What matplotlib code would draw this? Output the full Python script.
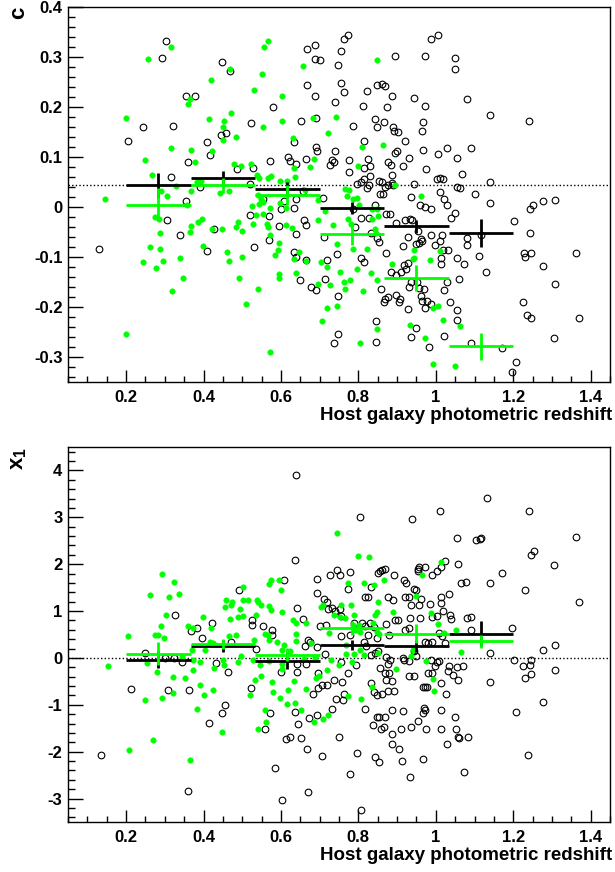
import numpy as np
import matplotlib
matplotlib.use("Agg")
import matplotlib.pyplot as plt
from matplotlib.ticker import MultipleLocator, FuncFormatter

plt.rcParams['font.family'] = ['Liberation Sans', 'DejaVu Sans']
plt.rcParams['font.weight'] = 'bold'
plt.rcParams['axes.unicode_minus'] = False
plt.rcParams['mathtext.fontset'] = 'custom'
plt.rcParams['mathtext.rm'] = 'Liberation Sans:bold'
plt.rcParams['mathtext.it'] = 'Liberation Sans:bold'
plt.rcParams['mathtext.bf'] = 'Liberation Sans:bold'

# redshift bins used for the binned means
bin_edges = [0.2, 0.367, 0.533, 0.7, 0.867, 1.033, 1.2]

# ---- top panel: colour c vs host photo-z ----
c_black = [
    (0.304, 0.331), (0.293, 0.299), (0.355, 0.221), (0.378, 0.221), (0.244, 0.159), (0.321, 0.161),
    (0.206, 0.132), (0.361, 0.091), (0.317, 0.061), (0.392, 0.041), (0.355, 0.013), (0.306, -0.026),
    (0.339, -0.056), (0.129, -0.083),
    (0.449, 0.291), (0.468, 0.271), (0.579, 0.199), (0.522, 0.167), (0.458, 0.149), (0.444, 0.145),
    (0.408, 0.131), (0.417, 0.105), (0.486, 0.077), (0.529, 0.079), (0.573, 0.092), (0.520, 0.046),
    (0.554, 0.016), (0.608, 0.013), (0.600, -0.004), (0.634, -0.002), (0.638, 0.016), (0.520, -0.015),
    (0.570, -0.017), (0.428, -0.043), (0.596, -0.038), (0.638, -0.053), (0.568, -0.065), (0.530, -0.079),
    (0.410, -0.088), (0.634, -0.089), (0.640, -0.099), (0.665, -0.106), (0.648, -0.146), (0.656, 0.032),
    (0.666, 0.097), (0.618, 0.101), (0.623, 0.093), (0.639, 0.087), (0.634, 0.131), (0.652, 0.171),
    (0.668, 0.243), (0.689, 0.221), (0.668, 0.316), (0.689, 0.323), (0.687, 0.296), (0.702, 0.295),
    (0.690, 0.179), (0.694, 0.112), (0.691, 0.121), (0.727, 0.085), (0.733, 0.094), (0.738, 0.091),
    (0.739, 0.113), (0.740, 0.209), (0.660, -0.025), (0.665, -0.035), (0.712, -0.059), (0.719, -0.105),
    (0.713, -0.143), (0.678, -0.159), (0.691, -0.165), (0.736, -0.271), (0.708, 0.019),
    (0.773, 0.344), (0.763, 0.336), (0.756, 0.311), (0.748, 0.285), (0.894, 0.302), (0.973, 0.303),
    (0.988, 0.335), (1.007, 0.343), (1.050, 0.299), (1.049, 0.275), (0.754, 0.247), (0.762, 0.229),
    (0.848, 0.244), (0.861, 0.246), (0.870, 0.241), (0.822, 0.232), (0.944, 0.217), (0.888, 0.221),
    (0.811, 0.201), (0.874, 0.200), (0.971, 0.201), (1.080, 0.215), (0.844, 0.176), (0.867, 0.169),
    (0.848, 0.159), (0.889, 0.159), (0.892, 0.152), (0.902, 0.151), (0.968, 0.169), (0.965, 0.152),
    (0.786, 0.161), (0.920, 0.133), (0.815, 0.132), (0.967, 0.115), (0.899, 0.113), (0.894, 0.109),
    (0.930, 0.099), (1.006, 0.107), (1.028, 0.119), (1.054, 0.099), (0.776, 0.094), (0.825, 0.097),
    (0.877, 0.091), (0.884, 0.085), (0.777, 0.071), (0.814, 0.079), (0.830, 0.083), (0.888, 0.065),
    (0.915, 0.083), (0.976, 0.077), (1.068, 0.066), (1.004, 0.056), (1.011, 0.058), (1.019, 0.056),
    (0.815, 0.057), (0.829, 0.063), (0.797, 0.046), (0.808, 0.051), (0.822, 0.039), (0.828, 0.044),
    (0.853, 0.052), (0.861, 0.051), (0.868, 0.041), (0.877, 0.044), (0.856, 0.026), (0.864, 0.027),
    (0.887, 0.049), (0.890, 0.044), (0.945, 0.046), (1.011, 0.031), (1.056, 0.041), (1.062, 0.039),
    (1.021, 0.016), (1.029, 0.004), (0.937, 0.021), (0.958, 0.004), (0.971, 0.001), (0.987, -0.003),
    (1.040, -0.021), (1.050, -0.011), (0.872, -0.013), (0.881, -0.013), (0.842, 0.005), (0.786, -0.003),
    (0.806, -0.021), (0.828, -0.021), (0.791, -0.039), (0.746, -0.093), (0.748, -0.177), (0.748, -0.254),
    (0.896, -0.031), (0.920, -0.026), (0.933, -0.024), (0.939, -0.025), (0.954, -0.048), (0.961, -0.063),
    (0.956, -0.071), (0.948, -0.073), (0.964, -0.068), (0.928, -0.059), (0.915, -0.077), (0.988, -0.055),
    (0.999, -0.075), (1.012, -0.067), (1.016, -0.056), (1.031, -0.085), (1.019, -0.086), (1.013, -0.101),
    (1.013, -0.113), (1.056, -0.101), (1.073, -0.114), (1.081, -0.061), (1.081, -0.075), (0.832, -0.051),
    (0.848, -0.061), (0.853, -0.069), (0.806, -0.101), (0.815, -0.109), (0.872, -0.091), (0.927, -0.111),
    (0.917, -0.116), (0.922, -0.123), (0.911, -0.129), (0.885, -0.129), (0.898, -0.136), (0.859, -0.163),
    (0.870, -0.183), (0.865, -0.189), (0.877, -0.179), (0.896, -0.176), (0.908, -0.183), (0.906, -0.189),
    (0.930, -0.159), (0.937, -0.149), (0.952, -0.149), (0.956, -0.161), (0.970, -0.163), (0.961, -0.177),
    (0.964, -0.188), (0.978, -0.188), (0.988, -0.193), (0.971, -0.201), (0.928, -0.203), (1.028, -0.149),
    (1.021, -0.166), (1.060, -0.143), (1.038, -0.189), (1.054, -0.205), (1.054, -0.226), (1.020, -0.258),
    (0.949, -0.241), (0.937, -0.259), (0.983, -0.279), (0.845, -0.228), (0.845, -0.269),
    (1.141, 0.183), (1.241, 0.171), (1.092, 0.119), (1.141, 0.050), (1.102, 0.027), (1.140, 0.008),
    (1.243, -0.003), (1.252, 0.004), (1.276, 0.012), (1.307, 0.014), (1.202, -0.027), (1.244, -0.052),
    (1.116, -0.056), (1.112, -0.097), (1.130, -0.129), (1.229, -0.091), (1.231, -0.099), (1.245, -0.091),
    (1.363, -0.092), (1.276, -0.118), (1.307, -0.154), (1.224, -0.190), (1.236, -0.215), (1.246, -0.221),
    (1.370, -0.221), (1.306, -0.262), (1.092, -0.271), (1.172, -0.281), (1.206, -0.309), (1.197, -0.330),
]
c_green = [
    (0.315, 0.320), (0.256, 0.296), (0.365, 0.215), (0.360, 0.207), (0.200, 0.179), (0.316, 0.119),
    (0.368, 0.115), (0.249, 0.095), (0.378, 0.091), (0.267, 0.065), (0.394, 0.053), (0.384, 0.051),
    (0.330, 0.043), (0.291, 0.032), (0.368, 0.032), (0.306, 0.023), (0.146, 0.017), (0.357, 0.004),
    (0.275, -0.020), (0.284, -0.024), (0.397, -0.024), (0.385, -0.030), (0.367, -0.037), (0.287, -0.052),
    (0.365, -0.049), (0.263, -0.080), (0.288, -0.084), (0.398, -0.077), (0.244, -0.109), (0.296, -0.108),
    (0.339, -0.101), (0.277, -0.122), (0.347, -0.141), (0.318, -0.167), (0.201, -0.254),
    (0.566, 0.331), (0.557, 0.319), (0.658, 0.282), (0.468, 0.275), (0.552, 0.266), (0.419, 0.253),
    (0.531, 0.235), (0.603, 0.222), (0.470, 0.187), (0.414, 0.177), (0.453, 0.171), (0.603, 0.173),
    (0.553, 0.159), (0.451, 0.160), (0.451, 0.135), (0.484, 0.141), (0.721, 0.148), (0.423, 0.113),
    (0.630, 0.139), (0.685, 0.097), (0.674, 0.081), (0.634, 0.079), (0.480, 0.087), (0.498, 0.083),
    (0.522, 0.087), (0.537, 0.065), (0.544, 0.059), (0.566, 0.059), (0.575, 0.062), (0.636, 0.060),
    (0.598, 0.052), (0.615, 0.053), (0.443, 0.029), (0.466, 0.033), (0.540, 0.025), (0.548, 0.017),
    (0.544, 0.007), (0.554, 0.011), (0.597, 0.009), (0.612, -0.001), (0.663, 0.035), (0.697, 0.015),
    (0.714, -0.007), (0.525, 0.002), (0.572, -0.001), (0.554, -0.014), (0.536, -0.016), (0.529, -0.033),
    (0.563, -0.033), (0.566, -0.039), (0.612, -0.035), (0.629, -0.041), (0.697, -0.026), (0.735, -0.035),
    (0.421, -0.043), (0.447, -0.043), (0.485, -0.039), (0.490, -0.030), (0.499, -0.048), (0.571, -0.056),
    (0.595, -0.071), (0.592, -0.086), (0.585, -0.095), (0.647, -0.090), (0.633, -0.103), (0.664, -0.107),
    (0.704, -0.109), (0.719, -0.119), (0.461, -0.089), (0.465, -0.107), (0.499, -0.099), (0.492, -0.141),
    (0.542, -0.163), (0.510, -0.194), (0.594, -0.133), (0.595, -0.141), (0.639, -0.131), (0.695, -0.153),
    (0.727, -0.155), (0.719, -0.201), (0.707, -0.227), (0.572, -0.289), (0.683, 0.179),
    (0.848, 0.295), (0.743, 0.180), (0.864, 0.124), (0.810, 0.121), (0.799, 0.083), (0.894, 0.044),
    (0.963, 0.022), (0.765, 0.036), (0.776, 0.035), (0.771, 0.022), (0.786, 0.017), (0.797, 0.019),
    (0.801, 0.004), (0.835, -0.004), (0.849, -0.003), (0.851, -0.017), (0.835, -0.023), (0.772, -0.024),
    (0.780, -0.033), (0.842, -0.044), (0.845, -0.052), (0.746, -0.074), (0.786, -0.083), (0.823, -0.084),
    (0.943, -0.086), (0.940, -0.103), (0.945, -0.101), (0.887, -0.113), (0.984, -0.105), (1.010, -0.087),
    (0.752, -0.129), (0.796, -0.123), (0.832, -0.131), (0.847, -0.145), (0.763, -0.149), (0.778, -0.145),
    (0.765, -0.163), (0.812, -0.167), (0.746, -0.197), (0.993, -0.201), (1.006, -0.198), (1.019, -0.225),
    (1.063, -0.238), (0.848, -0.243), (0.934, -0.236), (0.973, -0.261), (0.804, -0.271), (0.994, -0.314),
    (1.050, -0.318),
]
c_black_mean = [0.044, 0.058, 0.037, -0.001, -0.038, -0.051]
c_black_err = [0.025, 0.015, 0.014, 0.012, 0.013, 0.028]
c_green_mean = [0.005, 0.044, 0.025, -0.053, -0.141, -0.278]
c_green_err = [0.033, 0.015, 0.020, 0.022, 0.026, 0.027]
c_ref = 0.044

# ---- bottom panel: stretch x1 vs host photo-z ----
x1_black = [
    (0.327, 0.92), (0.384, 0.63), (0.367, 0.58), (0.397, 0.43), (0.250, 0.11), (0.324, 0.00),
    (0.301, 0.00), (0.345, -0.09), (0.212, -0.67), (0.308, -0.68), (0.362, -0.69), (0.136, -2.08),
    (0.360, -2.84),
    (0.639, 3.90), (0.637, 2.09), (0.609, 1.66), (0.692, 1.68), (0.727, 1.76), (0.492, 1.46),
    (0.692, 1.38), (0.711, 1.26), (0.718, 1.19), (0.642, 1.07), (0.733, 1.07), (0.739, 1.00),
    (0.656, 0.84), (0.722, 1.04), (0.525, 0.80), (0.526, 0.70), (0.422, 0.75), (0.554, 0.69),
    (0.577, 0.60), (0.576, 0.48), (0.701, 0.69), (0.716, 0.71), (0.472, 0.35), (0.671, 0.38),
    (0.675, 0.33), (0.662, 0.25), (0.692, 0.23), (0.714, 0.09), (0.536, 0.19), (0.433, -0.11),
    (0.462, -0.31), (0.642, -0.13), (0.665, -0.13), (0.601, -0.31), (0.642, -0.31), (0.695, -0.32),
    (0.706, -0.57), (0.718, -0.57), (0.696, -0.64), (0.737, -0.48), (0.682, -0.76), (0.523, -0.65),
    (0.455, -1.00), (0.449, -1.17), (0.415, -1.39), (0.573, -1.18), (0.637, -1.16), (0.645, -1.40),
    (0.673, -1.28), (0.692, -1.21), (0.732, -1.09), (0.558, -1.51), (0.612, -1.72), (0.623, -1.68),
    (0.652, -1.71), (0.668, -1.95), (0.705, -2.10), (0.584, -2.35), (0.671, -2.86), (0.603, -3.02),
    (0.804, 3.01), (0.939, 2.96), (1.010, 3.14), (1.054, 2.56), (0.745, 1.88), (0.752, 1.76),
    (0.779, 1.83), (0.851, 1.81), (0.857, 1.85), (0.862, 1.88), (0.868, 1.90), (0.891, 1.76),
    (0.954, 1.90), (0.957, 1.93), (0.971, 1.93), (0.954, 1.85), (0.991, 1.78), (1.002, 1.86),
    (1.013, 1.93), (1.023, 2.06), (1.057, 2.00), (1.064, 1.60), (1.077, 1.61), (0.772, 1.48),
    (0.832, 1.51), (0.918, 1.67), (0.924, 1.60), (0.945, 1.47), (0.950, 1.46), (0.816, 1.30),
    (0.825, 1.30), (0.877, 1.31), (0.890, 1.24), (0.920, 1.30), (0.931, 1.29), (0.963, 1.26),
    (1.013, 1.29), (1.033, 1.36), (0.935, 1.14), (0.957, 1.12), (0.986, 1.15), (1.014, 1.17),
    (0.752, 1.04), (0.756, 0.89), (0.789, 0.75), (0.810, 0.75), (0.816, 0.69), (0.829, 0.75),
    (0.840, 0.66), (0.894, 0.82), (0.902, 0.82), (0.871, 0.73), (0.933, 0.85), (0.958, 0.85),
    (0.991, 0.87), (1.004, 0.90), (1.019, 1.00), (1.038, 0.92), (1.040, 0.83), (1.081, 0.85),
    (0.756, 0.46), (0.778, 0.50), (0.825, 0.48), (0.849, 0.43), (0.879, 0.50), (0.920, 0.59),
    (0.930, 0.64), (0.971, 0.33), (0.980, 0.32), (0.990, 0.33), (1.008, 0.53), (1.016, 0.46),
    (1.023, 0.32), (0.815, 0.33), (0.819, 0.25), (0.832, 0.07), (0.842, 0.11), (0.851, 0.14),
    (0.795, -0.14), (0.756, -0.09), (0.773, -0.32), (0.758, -0.52), (0.743, -0.87), (0.871, 0.02),
    (0.881, -0.04), (0.877, -0.12), (0.855, -0.21), (0.870, -0.32), (0.879, -0.32), (0.915, 0.00),
    (0.918, -0.05), (0.931, -0.07), (0.944, 0.14), (0.950, 0.04), (0.930, -0.38), (0.945, -0.38),
    (0.988, -0.04), (1.002, -0.09), (0.999, -0.18), (0.980, -0.33), (0.991, -0.32), (1.008, -0.06),
    (1.034, -0.18), (1.031, -0.28), (1.045, -0.37), (1.057, -0.48), (1.055, -0.20), (1.070, -0.18),
    (0.967, -0.63), (0.973, -0.63), (0.978, -0.63), (0.872, -0.48), (0.887, -0.50), (1.014, -0.53),
    (1.027, -0.76), (0.832, -0.53), (0.840, -0.73), (0.849, -0.80), (0.862, -0.76), (0.877, -0.71),
    (0.891, -0.71), (0.763, -0.76), (0.760, -0.90), (0.818, -1.08), (0.888, -1.10), (0.915, -1.14),
    (0.954, -1.35), (0.969, -1.07), (0.971, -1.12), (0.967, -1.17), (0.849, -1.26), (0.853, -1.26),
    (0.868, -1.27), (0.838, -1.44), (0.859, -1.51), (0.866, -1.47), (0.911, -1.51), (0.935, -1.48),
    (0.974, -1.51), (1.013, -1.51), (1.049, -1.26), (1.051, -1.51), (1.014, -1.12), (1.057, -1.68),
    (1.060, -1.70), (1.083, -1.69), (0.750, -1.69), (0.887, -1.62), (0.905, -1.94), (0.887, -1.83),
    (1.030, -1.83), (0.797, -2.03), (0.844, -2.11), (0.853, -2.22), (0.913, -2.20), (0.967, -2.15),
    (0.779, -2.47), (0.934, -2.54), (1.074, -2.44), (0.808, -3.25),
    (1.131, 3.41), (1.241, 3.13), (1.103, 2.52), (1.114, 2.54), (1.118, 2.56), (1.363, 2.58),
    (1.245, 2.20), (1.253, 2.29), (1.306, 1.98), (1.172, 1.81), (1.141, 1.59), (1.230, 1.46),
    (1.370, 1.19), (1.092, 0.87), (1.092, 0.59), (1.198, 0.63), (1.307, 0.28), (1.276, 0.18),
    (1.141, 0.11), (1.202, -0.05), (1.245, -0.04), (1.224, -0.18), (1.244, -0.14), (1.230, -0.43),
    (1.245, -0.34), (1.308, -0.26), (1.141, -0.52), (1.276, -0.95), (1.207, -1.16), (1.237, -2.08),
]
x1_green = [
    (0.294, 1.80), (0.324, 1.61), (0.336, 1.37), (0.263, 1.34), (0.312, 1.29), (0.302, 0.92),
    (0.399, 0.87), (0.291, 0.68), (0.361, 0.68), (0.373, 0.63), (0.206, 0.46), (0.274, 0.48),
    (0.283, 0.49), (0.297, 0.43), (0.370, 0.18), (0.403, 0.16), (0.345, 0.03), (0.255, -0.11),
    (0.374, -0.05), (0.392, -0.08), (0.153, -0.17), (0.281, -0.29), (0.373, -0.25), (0.322, -0.41),
    (0.351, -0.43), (0.392, -0.58), (0.402, -0.80), (0.321, -0.75), (0.293, -0.85), (0.250, -0.90),
    (0.383, -1.09), (0.269, -1.76), (0.207, -1.96), (0.365, -2.18),
    (0.596, 1.67), (0.574, 1.66), (0.568, 1.58), (0.599, 1.46), (0.503, 1.51), (0.704, 1.09),
    (0.709, 1.14), (0.737, 0.92), (0.458, 1.23), (0.474, 1.19), (0.470, 1.12), (0.503, 1.23),
    (0.514, 1.24), (0.537, 1.24), (0.542, 1.20), (0.548, 1.12), (0.568, 1.10), (0.574, 1.03),
    (0.456, 1.08), (0.495, 1.05), (0.604, 0.97), (0.536, 0.92), (0.488, 0.88), (0.501, 0.89),
    (0.469, 0.83), (0.632, 0.82), (0.638, 0.74), (0.665, 0.74), (0.723, 0.53), (0.419, 0.64),
    (0.559, 0.51), (0.566, 0.50), (0.569, 0.39), (0.640, 0.51), (0.640, 0.37), (0.484, 0.48),
    (0.465, 0.46), (0.530, 0.39), (0.589, 0.35), (0.608, 0.28), (0.603, 0.18), (0.677, 0.32),
    (0.425, 0.32), (0.417, 0.33), (0.497, 0.04), (0.451, -0.05), (0.454, -0.16), (0.428, -0.21),
    (0.490, -0.09), (0.529, -0.05), (0.570, -0.07), (0.604, -0.13), (0.623, 0.14), (0.660, -0.02),
    (0.688, -0.01), (0.730, -0.04), (0.547, -0.16), (0.548, -0.39), (0.534, -0.46), (0.603, -0.23),
    (0.690, -0.43), (0.698, -0.39), (0.718, -0.26), (0.634, -0.50), (0.576, -0.51), (0.666, -0.66),
    (0.619, -0.69), (0.579, -0.73), (0.598, -0.85), (0.520, -0.80), (0.424, -0.69), (0.616, -0.98),
    (0.636, -0.97), (0.651, -1.10), (0.558, -1.10), (0.562, -1.36), (0.541, -1.51), (0.708, -1.30),
    (0.722, -1.21), (0.686, -1.36), (0.447, -1.57),
    (0.745, 2.67), (0.799, 2.17), (0.827, 2.15), (1.013, 2.05), (0.965, 1.76), (0.773, 1.60),
    (0.814, 1.60), (0.841, 1.56), (0.866, 1.66), (0.948, 1.33), (0.851, 1.19), (0.756, 1.14),
    (0.780, 1.14), (0.847, 0.97), (0.844, 0.92), (0.890, 0.98), (0.987, 0.96), (0.789, 0.91),
    (0.752, 0.87), (0.765, 0.85), (0.838, 0.75), (1.006, 0.72), (0.786, 0.70), (0.801, 0.70),
    (0.792, 0.60), (0.804, 0.55), (0.849, 0.56), (0.853, 0.52), (1.020, 0.53), (1.053, 0.59),
    (0.767, 0.28), (0.804, 0.16), (0.789, 0.09), (0.769, 0.09), (0.815, 0.07), (0.851, 0.11),
    (0.941, 0.16), (0.937, 0.04), (1.064, 0.12), (0.784, -0.09), (0.749, -0.16), (0.896, -0.23),
    (0.974, -0.07), (0.994, -0.45), (0.996, -0.71), (0.835, -0.63), (0.773, -0.82), (0.806, -0.87),
]
x1_black_mean = [-0.04, 0.26, -0.06, 0.27, 0.26, 0.52]
x1_black_err = [0.18, 0.13, 0.18, 0.11, 0.13, 0.26]
x1_green_mean = [0.09, 0.30, 0.07, 0.64, 0.52, 0.36]
x1_green_err = [0.25, 0.11, 0.14, 0.14, 0.21, 0.14]
x1_ref = 0.0

GREEN = '#00ff00'
W, H = 615, 872


def draw_panel(ax, black, green, bmean, berr, gmean, gerr, ref, ylim, ymaj, ymin, ylabel):
    bx, by = np.array(black).T
    gx, gy = np.array(green).T
    ax.plot(bx, by, 'o', ms=4.8, mfc='none', mec='black', mew=0.8, zorder=2)
    ax.plot(gx, gy, 'o', ms=4.0, mfc=GREEN, mec=GREEN, mew=0.3, zorder=3)
    ax.axhline(ref, color='black', lw=1.0, ls=(0, (1, 1.6)), zorder=1)

    edges = np.array(bin_edges)
    ctr = 0.5 * (edges[:-1] + edges[1:])
    xe = [ctr - edges[:-1], edges[1:] - ctr]
    ax.errorbar(ctr, bmean, xerr=xe, yerr=berr, fmt='none', ecolor='black',
                elinewidth=2.0, capsize=0, zorder=4)
    ax.errorbar(ctr, gmean, xerr=xe, yerr=gerr, fmt='none', ecolor=GREEN,
                elinewidth=2.0, capsize=0, zorder=5)

    ax.set_xlim(0.05, 1.45)
    ax.set_ylim(*ylim)
    ax.xaxis.set_major_locator(MultipleLocator(0.2))
    ax.xaxis.set_minor_locator(MultipleLocator(0.05))
    ax.yaxis.set_major_locator(MultipleLocator(ymaj))
    ax.yaxis.set_minor_locator(MultipleLocator(ymin))
    fmt = FuncFormatter(lambda v, p: '%g' % round(v, 6))
    ax.xaxis.set_major_formatter(fmt)
    ax.yaxis.set_major_formatter(fmt)
    ax.tick_params(axis='both', which='both', direction='in', top=False, right=False,
                   labelsize=12, width=1.0)
    ax.tick_params(axis='y', which='major', length=10.5, pad=4)
    ax.tick_params(axis='y', which='minor', length=5)
    ax.tick_params(axis='x', which='major', length=8.5, pad=6)
    ax.tick_params(axis='x', which='minor', length=4.3)
    for s in ax.spines.values():
        s.set_linewidth(1.0)
    for lab in ax.get_xticklabels() + ax.get_yticklabels():
        lab.set_fontweight('bold')

    ax.text(1.004, -0.088, 'Host galaxy photometric redshift', transform=ax.transAxes,
            ha='right', va='center', fontsize=13.5, fontweight='bold')
    ax.text(-0.092, 1.0, ylabel, transform=ax.transAxes, rotation=90,
            ha='center', va='top', fontsize=16, fontweight='bold')


fig = plt.figure(figsize=(W / 100, H / 100), dpi=100)
ax1 = fig.add_axes([68 / W, 1 - 382 / H, 542 / W, 375 / H])
ax2 = fig.add_axes([68 / W, 1 - 822 / H, 542 / W, 375 / H])

draw_panel(ax1, c_black, c_green, c_black_mean, c_black_err, c_green_mean, c_green_err,
           c_ref, (-0.35, 0.4), 0.1, 0.02, 'c')
draw_panel(ax2, x1_black, x1_green, x1_black_mean, x1_black_err, x1_green_mean, x1_green_err,
           x1_ref, (-3.5, 4.5), 1, 0.2, r'$\mathbf{x_1}$')

fig.savefig('out.png', dpi=100)
